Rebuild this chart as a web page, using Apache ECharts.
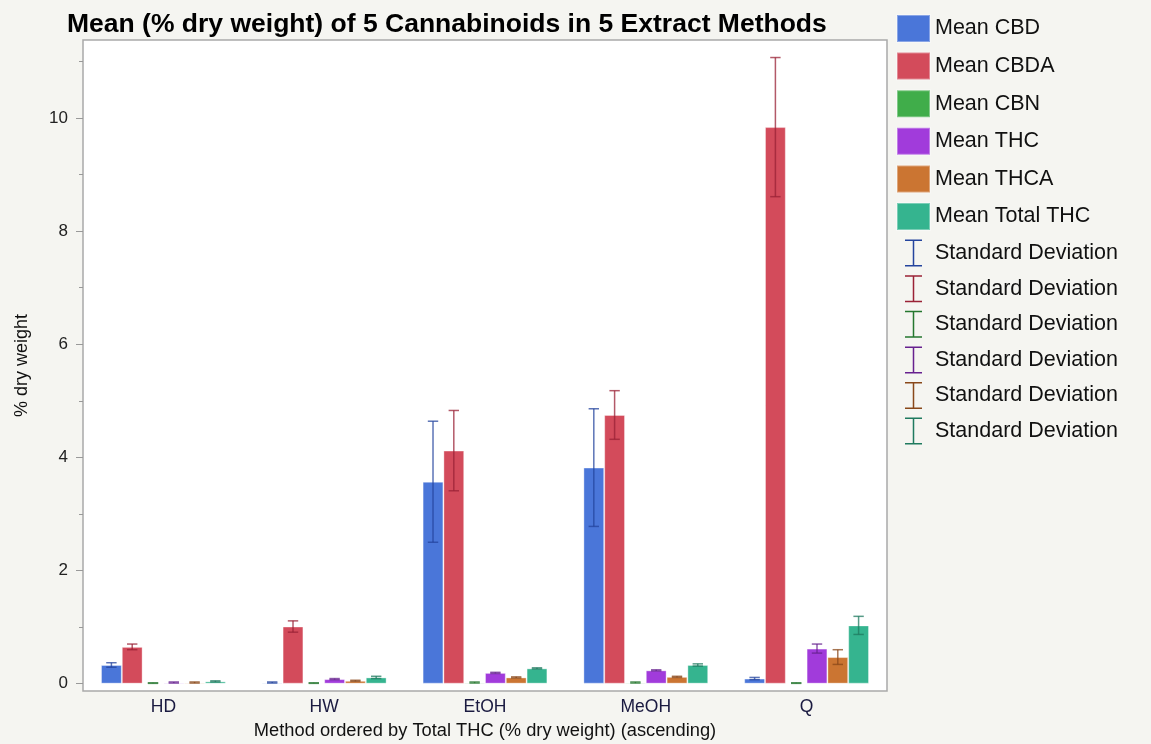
<!DOCTYPE html>
<html>
<head>
<meta charset="utf-8">
<script src="https://cdn.jsdelivr.net/npm/echarts@6/dist/echarts.min.js"></script>
<style>
  html, body { margin: 0; padding: 0; background: #f5f5f1; }
  #chart { width: 1151px; height: 744px; }
</style>
</head>
<body>
<div id="chart"></div>
<script>
// Extraction methods, ordered by mean total THC
const methods = ['HD', 'HW', 'EtOH', 'MeOH', 'Q'];

// Mean content (% dry weight) per cannabinoid
const meanCBD      = [0.33, 0.02, 3.57, 3.82, 0.09];
const meanCBDA     = [0.65, 1.01, 4.12, 4.75, 9.84];
const meanCBN      = [0.01, 0.01, 0.02, 0.02, 0.01];
const meanTHC      = [0.02, 0.08, 0.19, 0.235, 0.62];
const meanTHCA     = [0.02, 0.05, 0.11, 0.12, 0.47];
const meanTotalTHC = [0.04, 0.11, 0.27, 0.33, 1.03];

// Standard deviations per cannabinoid
const sdCBD      = [0.04, 0.01, 1.07, 1.04, 0.02];
const sdCBDA     = [0.05, 0.10, 0.71, 0.43, 1.23];
const sdCBN      = [0.005, 0.005, 0.01, 0.01, 0.005];
const sdTHC      = [0.01, 0.01, 0.01, 0.01, 0.08];
const sdTHCA     = [0.01, 0.01, 0.01, 0.01, 0.13];
const sdTotalTHC = [0.01, 0.02, 0.01, 0.02, 0.16];

// Y axis tick values
const majorTicks = [0, 2, 4, 6, 8, 10];
const minorTicks = [1, 3, 5, 7, 9, 11];

const groups = [
  { name: 'Mean CBD',       mean: meanCBD,      sd: sdCBD,      color: '#4a76d9', dark: '#24449e' },
  { name: 'Mean CBDA',      mean: meanCBDA,     sd: sdCBDA,     color: '#d34b5b', dark: '#9a2236' },
  { name: 'Mean CBN',       mean: meanCBN,      sd: sdCBN,      color: '#40ad4a', dark: '#25772f' },
  { name: 'Mean THC',       mean: meanTHC,      sd: sdTHC,      color: '#a13bdb', dark: '#67218f' },
  { name: 'Mean THCA',      mean: meanTHCA,     sd: sdTHCA,     color: '#cb7532', dark: '#89481a' },
  { name: 'Mean Total THC', mean: meanTotalTHC, sd: sdTotalTHC, color: '#35b48f', dark: '#1f7a5f' }
];

const CATEGORY_GAP = 0.224;
const sdName = i => 'Standard Deviation' + '\u200b'.repeat(i);
const FONT = 'Liberation Sans, Arial, Helvetica, sans-serif';
const Y_MIN = -0.13;
const Y_MAX = 11.38;

const barSeries = groups.map(g => ({
  name: g.name,
  type: 'bar',
  data: g.mean,
  barGap: '0%',
  barCategoryGap: (CATEGORY_GAP * 100) + '%',
  itemStyle: { color: g.color, borderColor: 'rgba(255,255,255,0.35)', borderWidth: 1 },
  emphasis: { disabled: true }
}));

const errorSeries = groups.map((g, i) => ({
  name: sdName(i),
  type: 'custom',
  itemStyle: { color: g.dark },
  data: g.mean.map((m, k) => [k, m - g.sd[k], m + g.sd[k]]),
  z: 5,
  renderItem: (params, api) => {
    const cat = api.value(0);
    const lo = api.coord([cat, api.value(1)]);
    const hi = api.coord([cat, api.value(2)]);
    const band = api.size([1, 0])[0];
    const groupW = band * (1 - CATEGORY_GAP);
    const bw = groupW / groups.length;
    const x = lo[0] - groupW / 2 + bw * (i + 0.5);
    const cap = bw * 0.25;
    const style = { stroke: g.dark, lineWidth: 1.5, opacity: 0.75 };
    return {
      type: 'group',
      children: [
        { type: 'line', shape: { x1: x, y1: lo[1], x2: x, y2: hi[1] }, style },
        { type: 'line', shape: { x1: x - cap, y1: hi[1], x2: x + cap, y2: hi[1] }, style },
        { type: 'line', shape: { x1: x - cap, y1: lo[1], x2: x + cap, y2: lo[1] }, style }
      ]
    };
  }
}));

const sdIcon = 'path://M0,0H17V1.5H9.25V25.5H17V27H0V25.5H7.75V1.5H0Z';

const legendData = groups.map(g => ({ name: g.name, icon: 'rect', itemStyle: { color: g.color } }))
  .concat(groups.map((g, i) => ({ name: sdName(i), icon: sdIcon, itemStyle: { color: g.dark } })));

const chart = echarts.init(document.getElementById('chart'), null, { renderer: 'canvas' });
chart.setOption({
  backgroundColor: '#f5f5f1',
  animation: false,
  title: {
    text: 'Mean (% dry weight) of 5 Cannabinoids in 5 Extract Methods',
    left: 67,
    top: 11,
    padding: 0,
    textStyle: { fontFamily: FONT, fontSize: 26.5, fontWeight: 'bold', color: '#000' }
  },
  legend: {
    orient: 'vertical',
    left: 896,
    top: 14,
    padding: 0,
    itemWidth: 33,
    itemHeight: 27,
    itemGap: 8.6,
    selectedMode: false,
    data: legendData,
    formatter: n => n.replace(/\u200b/g, ''),
    textStyle: { fontFamily: FONT, fontSize: 21.5, lineHeight: 24, color: '#111' }
  },
  grid: {
    left: 83, right: 264, top: 40, bottom: 53,
    outerBoundsMode: 'none',
    containLabel: false,
    show: true,
    backgroundColor: '#ffffff',
    borderColor: '#a9a9a9',
    borderWidth: 1.5
  },
  xAxis: {
    type: 'category',
    data: methods,
    axisLine: { show: false },
    axisTick: { show: false },
    axisLabel: { fontFamily: FONT, fontSize: 17.5, color: '#1a1a40', margin: 7 },
    name: 'Method ordered by Total THC (% dry weight) (ascending)',
    nameLocation: 'middle',
    nameGap: 31,
    nameTextStyle: { fontFamily: FONT, fontSize: 18.3, color: '#111' }
  },
  yAxis: [
    {
      type: 'value',
      min: Y_MIN,
      max: Y_MAX,
      splitLine: { show: false },
      axisLine: { show: false },
      axisTick: { show: true, length: 7, customValues: majorTicks, lineStyle: { color: '#999', width: 1 } },
      axisLabel: { customValues: majorTicks, fontFamily: FONT, fontSize: 17, color: '#222', margin: 15 },
      name: '% dry weight',
      nameLocation: 'middle',
      nameGap: 52,
      nameRotate: 90,
      nameTextStyle: { fontFamily: FONT, fontSize: 18, color: '#111' }
    },
    {
      type: 'value',
      position: 'left',
      min: Y_MIN,
      max: Y_MAX,
      splitLine: { show: false },
      axisLine: { show: false },
      axisLabel: { show: false },
      axisTick: { show: true, length: 4, customValues: minorTicks, lineStyle: { color: '#999', width: 1 } }
    }
  ],
  series: barSeries.concat(errorSeries)
});
</script>
</body>
</html>
